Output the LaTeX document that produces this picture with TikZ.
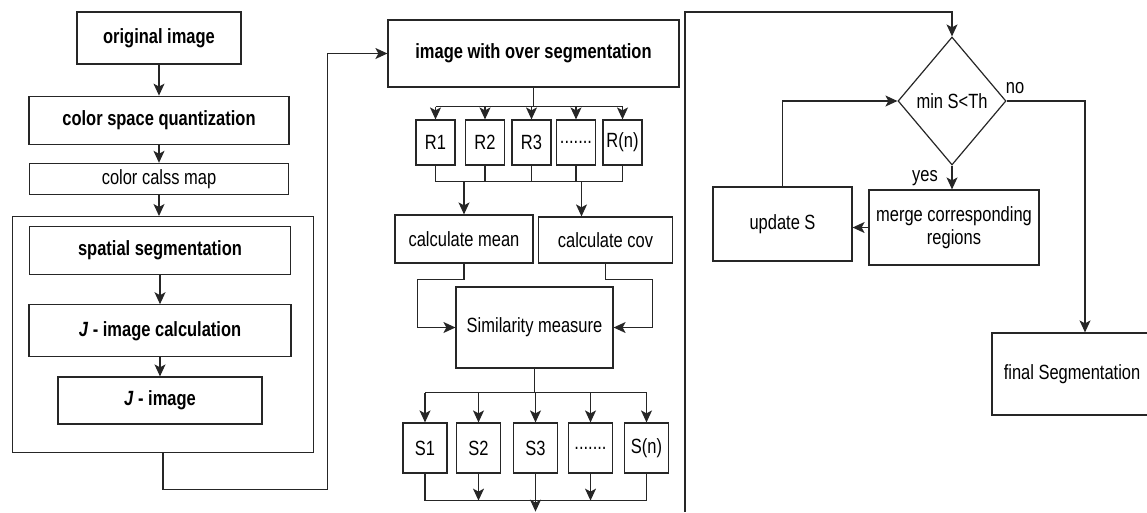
\documentclass[tikz,border=0pt]{standalone}
\usepackage{fontspec}
\setmainfont{Liberation Sans}[FakeStretch=0.8]
\usetikzlibrary{shapes, arrows.meta, calc, positioning}
\tikzstyle{line} = [draw, -{Stealth[length=12pt, width=11pt, inset=3pt]}]
\tikzstyle{link} = [draw]
\tikzstyle{block} = [rectangle, draw, text centered, inner sep=0pt]
\tikzstyle{region} = [block, minimum width=39pt, minimum height=45pt]
\tikzstyle{score} = [block, minimum width=44pt, minimum height=50pt]
\tikzstyle{decision} = [diamond, draw, text centered, inner sep=0pt, minimum width=108pt, minimum height=128pt]
\tikzstyle{tag} = [inner sep=0pt]

\begin{document}
\begin{tikzpicture}[x=1pt, y=-1pt, node distance=0.5cm, on grid=false, line width=1.2pt, draw=black!85, font=\fontsize{20.6}{23}\selectfont]
\useasboundingbox (0,0) rectangle (1147,512);
% left column
\node [block, minimum width=164pt, minimum height=52pt] (orig) at (159,38) {\textbf{original image}};
\node [block, below=31pt of orig, minimum width=260pt, minimum height=48pt] (quant) {\textbf{color space quantization}};
\node [block, below=18pt of quant, minimum width=259pt, minimum height=31pt] (classmap) {color calss map};
\node [block, below=21pt of classmap, xshift=4pt, minimum width=301pt, minimum height=236pt] (jseg) {};
\node [block, below=10pt of jseg.north, xshift=-3pt, minimum width=261pt, minimum height=48pt] (spatial) {\textbf{spatial segmentation}};
\node [block, below=29pt of spatial, minimum width=262pt, minimum height=52pt] (jcalc) {\textbf{\textit{J} - image calculation}};
\node [block, below=19pt of jcalc, minimum width=204pt, minimum height=47pt] (jimg) {\textbf{\textit{J} - image}};
% middle column
\node [block, minimum width=291pt, minimum height=67pt] (overseg) at (533.5,53.5) {\textbf{image with over segmentation}};
\node [region] (r1) at (435.5,142.5) {R1};
\node [region] (r2) at (485,142.5) {R2};
\node [region] (r3) at (531.5,142.5) {R3};
\node [region] (rdots) at (576,142.5) {.......};
\node [region] (rn) at (622.5,142.5) {R(n)};
\node [block, minimum width=138pt, minimum height=48pt] (mean) at (464,239) {calculate mean};
\node [block, minimum width=134pt, minimum height=46pt] (cov) at (605.5,240) {calculate cov};
\node [block, minimum width=157pt, minimum height=81pt] (sim) at (534.5,327.5) {Similarity measure};
\node [score] (s1) at (425,448) {S1};
\node [score] (s2) at (478.5,448) {S2};
\node [score] (s3) at (535.5,448) {S3};
\node [score] (sdots) at (590.5,448) {.......};
\node [score] (sn) at (646.5,448) {S(n)};
% right part
\node [decision] (cond) at (952,101) {min S<Th};
\node [block, minimum width=170pt, minimum height=75pt, align=center] (merge) at (954,227.5) {merge corresponding\\regions};
\node [block, minimum width=139pt, minimum height=74pt] (update) at (782.5,224) {update S};
\node [block, minimum width=160pt, minimum height=82pt] (final) at (1072,374) {final Segmentation};
\node [tag] (nolabel) at (1015,88) {no};
\node [tag] (yeslabel) at (925,178) {yes};
\coordinate (back) at (685,512);
\coordinate (covin) at ([xshift=-24pt]cov.north);

\path [line] (orig) -- (quant);
\path [line] (quant) -- (classmap);
\path [line] (classmap) -- (classmap |- jseg.north);
\path [line] (spatial) -- (jcalc);
\path [line] (jcalc) -- (jimg);
\path [line] (jseg.south) -- ++(0,36) -| ($(overseg.west)+(-60,0)$) -- (overseg.west);

\path [link] (overseg.south) -- ++(0,19) coordinate (rfork);
\path [link] (r1.north |- rfork) -- (rn.north |- rfork);
\path [line] (r1.north |- rfork) -- (r1.north);
\path [line] (r2.north |- rfork) -- (r2.north);
\path [line] (r3.north |- rfork) -- (r3.north);
\path [line] (rdots.north |- rfork) -- (rdots.north);
\path [line] (rn.north |- rfork) -- (rn.north);
\path [link] (r1.south) -- ++(0,16) coordinate (rjoin) -- (rjoin -| rn.south);
\path [link] (r2.south) -- (r2.south |- rjoin);
\path [link] (r3.south) -- (r3.south |- rjoin);
\path [link] (rdots.south) -- (rdots.south |- rjoin);
\path [link] (rn.south) -- (rn.south |- rjoin);
\path [line] (rjoin -| mean.north) -- (mean.north);
\path [line] (rjoin -| covin) -- (covin);
\path [line] (mean.south) -- ++(0,16) -| ($(sim.west)+(-38,0)$) -- (sim.west);
\path [line] (cov.south) -- ++(0,16) -| ($(sim.east)+(39,0)$) -- (sim.east);

\path [link] (sim.south) -- ++(0,24) coordinate (sfork);
\path [link] (s1.north |- sfork) -- (sn.north |- sfork);
\path [line] (s1.north |- sfork) -- (s1.north);
\path [line] (s2.north |- sfork) -- (s2.north);
\path [line] (s3.north |- sfork) -- (s3.north);
\path [line] (sdots.north |- sfork) -- (sdots.north);
\path [line] (sn.north |- sfork) -- (sn.north);
\path [link] (s1.south) -- ++(0,27) coordinate (sjoin) -- (sjoin -| sn.south);
\path [link] (sn.south) -- (sn.south |- sjoin);
\path [line] (s2.south) -- (s2.south |- sjoin);
\path [line] (sdots.south) -- (sdots.south |- sjoin);
\path [line] (s3.south) -- ++(0,38);

\path [line] (back) -- ++(0,-500) -| (cond.north);
\path [line] (cond.east) -| ([xshift=13pt]final.north);
\path [line] (cond.south) -- (cond.south |- merge.north);
\path [line] (merge.west) -- (merge.west -| update.east);
\path [line] (update.north) |- (cond.west);
\end{tikzpicture}
\end{document}
